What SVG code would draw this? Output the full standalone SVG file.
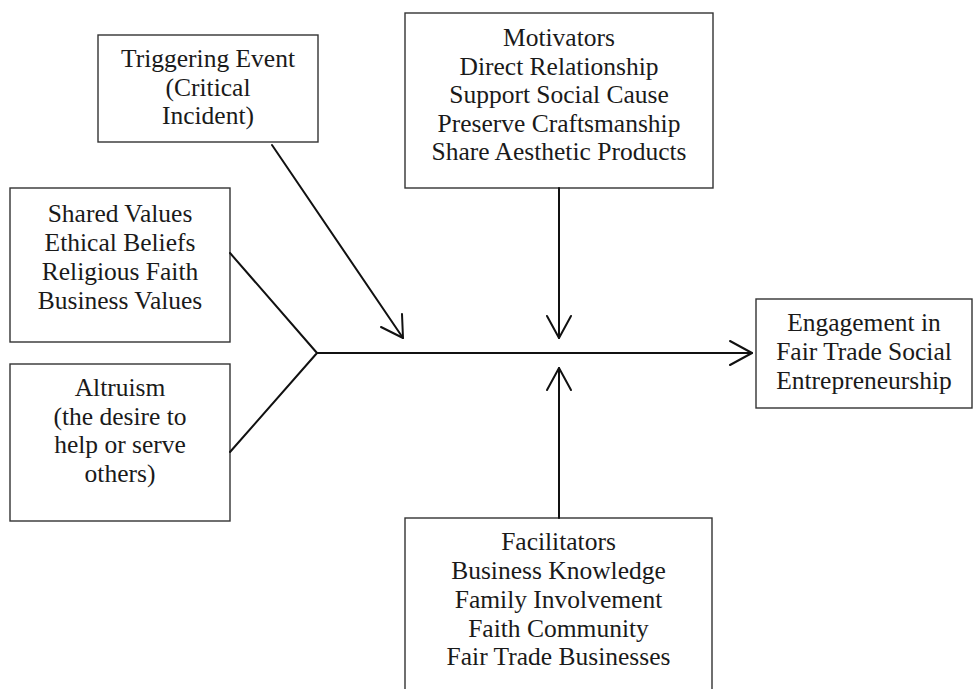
<svg xmlns="http://www.w3.org/2000/svg" width="974" height="689" viewBox="0 0 974 689">
<style>
.box{fill:#fff;stroke:#333;stroke-width:1.4}
.t{font-family:"Liberation Serif","Times New Roman",serif;font-size:25.5px;fill:#1a1a1a;text-anchor:middle}
.c{fill:none;stroke:#111;stroke-width:2;stroke-linecap:round;stroke-linejoin:round}
</style>
<rect width="974" height="689" fill="#fff"/>
<g id="triggering">
<rect class="box" x="98" y="35" width="220" height="107"/>
<text class="t" x="208" y="67">Triggering Event</text>
<text class="t" x="208" y="95.5">(Critical</text>
<text class="t" x="208" y="124">Incident)</text>
</g>
<g id="shared-values">
<rect class="box" x="10" y="188" width="220" height="154"/>
<text class="t" x="120" y="222">Shared Values</text>
<text class="t" x="120" y="251">Ethical Beliefs</text>
<text class="t" x="120" y="280">Religious Faith</text>
<text class="t" x="120" y="309">Business Values</text>
</g>
<g id="altruism">
<rect class="box" x="10" y="364" width="220" height="157"/>
<text class="t" x="120" y="396">Altruism</text>
<text class="t" x="120" y="425">(the desire to</text>
<text class="t" x="120" y="453">help or serve</text>
<text class="t" x="120" y="482">others)</text>
</g>
<g id="motivators">
<rect class="box" x="405" y="13" width="308" height="175"/>
<text class="t" x="559" y="46">Motivators</text>
<text class="t" x="559" y="74.5">Direct Relationship</text>
<text class="t" x="559" y="103">Support Social Cause</text>
<text class="t" x="559" y="131.5">Preserve Craftsmanship</text>
<text class="t" x="559" y="160">Share Aesthetic Products</text>
</g>
<g id="facilitators">
<rect class="box" x="405" y="518" width="307" height="200"/>
<text class="t" x="558.5" y="550">Facilitators</text>
<text class="t" x="558.5" y="579">Business Knowledge</text>
<text class="t" x="558.5" y="608">Family Involvement</text>
<text class="t" x="558.5" y="637">Faith Community</text>
<text class="t" x="558.5" y="665">Fair Trade Businesses</text>
</g>
<g id="engagement">
<rect class="box" x="756" y="299" width="216" height="109"/>
<text class="t" x="864" y="331">Engagement in</text>
<text class="t" x="864" y="360">Fair Trade Social</text>
<text class="t" x="864" y="389">Entrepreneurship</text>
</g>
<g id="connectors">
<path class="c" d="M230 253 L317 353 L230 452"/>
<path class="c" d="M317 353 L752 353"/>
<path class="c" d="M730 341 L752 353 L730 365"/>
<path class="c" d="M272 145 L403 338"/>
<path class="c" d="M381 327 L403 338 L402 314"/>
<path class="c" d="M559 188 L559 338"/>
<path class="c" d="M547 316 L559 338 L571 316"/>
<path class="c" d="M559 518 L559 368"/>
<path class="c" d="M547 390 L559 368 L571 390"/>
</g>
</svg>
